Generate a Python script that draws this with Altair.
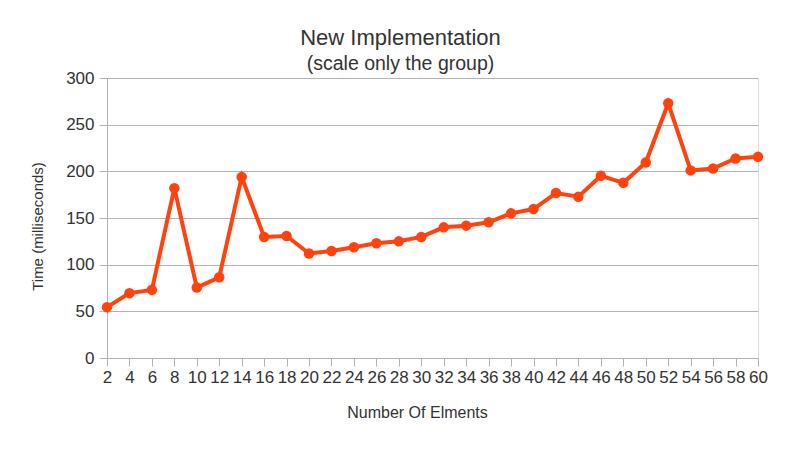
import altair as alt
import pandas as pd

elements = list(range(2, 62, 2))
times = [54.5, 69.5, 73, 182, 75.5, 86.5, 194, 129.7, 130.7, 112,
         114.7, 118.6, 123, 125, 129.7, 140, 141.8, 145.4, 155, 159.6,
         176.7, 172.8, 195.2, 187.7, 209.5, 272.9, 201, 203, 213.7, 215.5]
y_ticks = [0, 50, 100, 150, 200, 250, 300]

df = pd.DataFrame({"n": elements, "t": times})

FONT = "Liberation Sans"
TXT = "#333333"
GRID = "#b3b3b3"
COLOR = "#ff420e"

base = alt.Chart(df).encode(
    x=alt.X("n:Q", scale=alt.Scale(domain=[2, 60], nice=False, zero=False),
            axis=alt.Axis(values=elements, title="Number Of Elments", grid=False,
                          labelFontSize=17, labelColor=TXT, labelFont=FONT,
                          tickSize=8, tickColor=GRID, domainColor=GRID,
                          labelPadding=3, labelFlush=False, labelOverlap=False,
                          titleFont=FONT, titleFontSize=16, titleFontWeight="normal",
                          titleColor=TXT, titlePadding=19, titleX=310)),
    y=alt.Y("t:Q", scale=alt.Scale(domain=[0, 300], nice=False),
            axis=alt.Axis(values=y_ticks, title="Time (milliseconds)",
                          labelFontSize=17, labelColor=TXT, labelFont=FONT,
                          tickSize=8, tickColor=GRID, domainColor=GRID,
                          gridColor=GRID, labelPadding=5,
                          titleFont=FONT, titleFontSize=15, titleFontWeight="normal",
                          titleColor=TXT, titlePadding=20, titleY=148)),
)

line = base.mark_line(color=COLOR, strokeWidth=4)
pts = base.mark_point(color=COLOR, filled=True, opacity=1, size=110)

chart = (line + pts).properties(
    width=651, height=280,
    autosize=alt.AutoSizeParams(type="none"),
    padding={"left": 99, "top": 70, "right": 34, "bottom": 70},
    title=alt.TitleParams(
        "New Implementation",
        subtitle="(scale only the group)",
        font=FONT, fontSize=22, fontWeight="normal", color=TXT,
        subtitleFont=FONT, subtitleFontSize=19.5, subtitleColor=TXT,
        subtitlePadding=5, offset=-5, dx=-32, anchor="middle",
    ),
).configure_view(stroke=GRID).configure(background="white")

chart.save("out.html", embed_options={"renderer": "svg", "actions": False})
